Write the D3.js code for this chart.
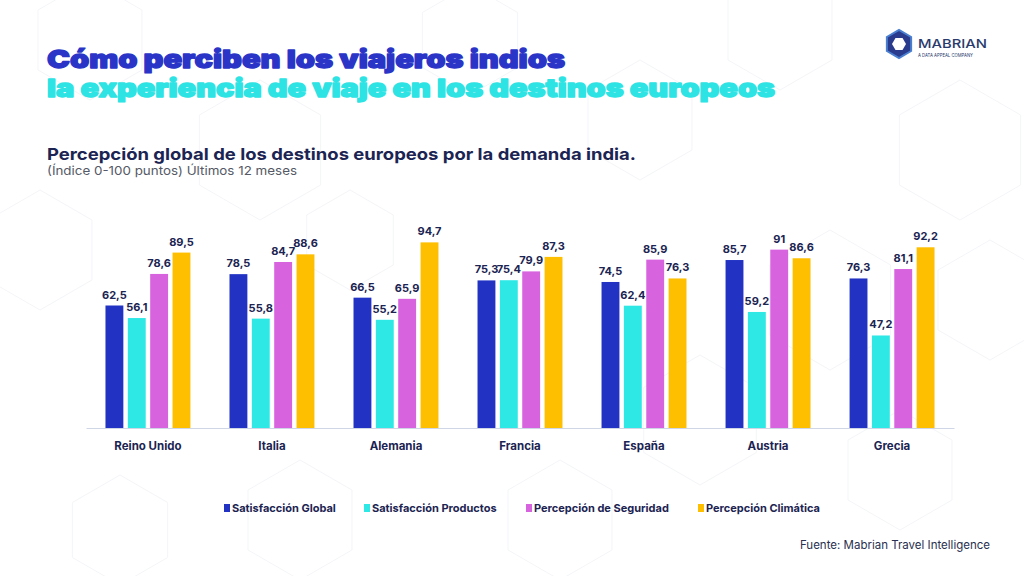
<!DOCTYPE html>
<html><head><meta charset="utf-8">
<script src="https://cdn.jsdelivr.net/npm/d3@7"></script>
<style>html,body{margin:0;padding:0;background:#fff;}svg{display:block;}</style>
</head><body>
<svg id="c" width="1024" height="576"></svg>
<script>
const categories = ["Reino Unido","Italia","Alemania","Francia","España","Austria","Grecia"];
const seriesNames = ["Satisfacción Global","Satisfacción Productos","Percepción de Seguridad","Percepción Climática"];
const satisfaccionGlobal = [62.5,78.5,66.5,75.3,74.5,85.7,76.3];
const satisfaccionProductos = [56.1,55.8,55.2,75.4,62.4,59.2,47.2];
const percepcionSeguridad = [78.6,84.7,65.9,79.9,85.9,91,81.1];
const percepcionClimatica = [89.5,88.6,94.7,87.3,76.3,86.6,92.2];
const colors = ["#2233c4","#2ee8e6","#d763df","#fdbf00"];

const series = [satisfaccionGlobal,satisfaccionProductos,percepcionSeguridad,percepcionClimatica];
const svg = d3.select("#c");
const navy = "#1b2452";

// faint hexagon background
const hexG = svg.append("g").attr("fill","none").attr("stroke","#f4f5f8").attr("stroke-width",1);
const hexCenters = [[90,40,60],[260,150,70],[470,40,55],[640,120,60],[780,30,60],[960,150,70],[830,300,70],[990,300,60],[700,420,65],[560,520,60],[300,520,60],[120,530,55],[40,250,60],[900,470,60],[350,240,50]];
hexCenters.forEach(([cx,cy,r])=>{
  const pts = d3.range(6).map(i=>{const a=Math.PI/3*i+Math.PI/6;return [cx+r*Math.cos(a),cy+r*Math.sin(a)];});
  hexG.append("polygon").attr("points",pts.map(p=>p.join(",")).join(" "));
});

// titles
svg.append("text").attr("x",47).attr("y",68).attr("font-family","Inter").attr("font-weight",900)
  .attr("font-size",25).attr("fill","#2a35c8").attr("stroke","#2a35c8").attr("stroke-width",1.3).attr("stroke-linejoin","round")
  .attr("textLength",518).attr("lengthAdjust","spacingAndGlyphs")
  .text("Cómo perciben los viajeros indios");
svg.append("text").attr("x",47).attr("y",97).attr("font-family","Inter").attr("font-weight",900)
  .attr("font-size",25).attr("fill","#2ee3e3").attr("stroke","#2ee3e3").attr("stroke-width",1.3).attr("stroke-linejoin","round")
  .attr("textLength",728).attr("lengthAdjust","spacingAndGlyphs")
  .text("la experiencia de viaje en los destinos europeos");

svg.append("text").attr("x",47).attr("y",160).attr("font-family","Inter").attr("font-weight",700)
  .attr("font-size",16.5).attr("fill",navy).attr("textLength",589).attr("lengthAdjust","spacingAndGlyphs")
  .text("Percepción global de los destinos europeos por la demanda india.");
svg.append("text").attr("x",47).attr("y",175).attr("font-family","Inter").attr("font-weight",400)
  .attr("font-size",12).attr("fill","#555a66").attr("textLength",250).attr("lengthAdjust","spacingAndGlyphs")
  .text("(Índice 0-100 puntos) Últimos 12 meses");

// logo
const lg = svg.append("g");
const hx=899, hy=44, hr=14;
const hexPts = d3.range(6).map(i=>{const a=Math.PI/3*i+Math.PI/6;return [hx+hr*Math.cos(a),hy+hr*Math.sin(a)];});
lg.append("polygon").attr("points",hexPts.map(p=>p.join(",")).join(" ")).attr("fill","#2a3a8c");
lg.append("polygon").attr("points",hexPts.map(p=>p.join(",")).join(" ")).attr("fill","none").attr("stroke","#4a7fd0").attr("stroke-width",2);
const inPts = d3.range(6).map(i=>{const a=Math.PI/3*i;return [hx+7*Math.cos(a),hy+7*Math.sin(a)];});
lg.append("polygon").attr("points",inPts.map(p=>p.join(",")).join(" ")).attr("fill","#fff");
lg.append("text").attr("x",918).attr("y",48).attr("font-family","Inter").attr("font-weight",500).attr("font-size",12)
  .attr("fill","#2a3a6c").attr("textLength",69).attr("lengthAdjust","spacingAndGlyphs").text("MABRIAN");
lg.append("text").attr("x",918).attr("y",57).attr("font-family","Inter").attr("font-size",5)
  .attr("fill","#2a3a6c").attr("textLength",55).attr("lengthAdjust","spacingAndGlyphs").text("A DATA APPEAL COMPANY");

// chart
const x0 = d3.scaleBand().domain(categories).range([86,954]).paddingInner(0.315).paddingOuter(0.157);
const x1 = d3.scaleBand().domain(d3.range(4)).range([0,x0.bandwidth()]).paddingInner(0.2);
const y = d3.scaleLinear().domain([0,100]).range([428,232]);

const g = svg.append("g");
categories.forEach((c,ci)=>{
  series.forEach((s,si)=>{
    const v = s[ci];
    const bx = x0(c)+x1(si);
    g.append("rect").attr("x",bx).attr("y",y(v)).attr("width",x1.bandwidth()).attr("height",y(0)-y(v)).attr("fill",colors[si]);
    g.append("text").attr("x",bx+x1.bandwidth()/2).attr("y",y(v)-7).attr("text-anchor","middle")
      .attr("font-family","Inter").attr("font-weight",700).attr("font-size",11).attr("fill",navy)
      .text(String(v).replace(".",","));
  });
});

const xAxis = svg.append("g").attr("transform","translate(0,428)").call(d3.axisBottom(x0).tickSize(0).tickPadding(14));
xAxis.select(".domain").attr("stroke","#cfd6e6").attr("stroke-width",1.2);
xAxis.selectAll("text").attr("font-family","Inter").attr("font-weight",700).attr("font-size",11.5).attr("fill",navy);

// legend
const legX = [224,364,526,698];
const leg = svg.append("g");
seriesNames.forEach((n,i)=>{
  leg.append("rect").attr("x",legX[i]).attr("y",504).attr("width",6).attr("height",8).attr("fill",colors[i]);
  leg.append("text").attr("x",legX[i]+8).attr("y",512).attr("font-family","Inter").attr("font-weight",700)
    .attr("font-size",11).attr("fill",navy).text(n);
});

// source
svg.append("text").attr("x",990).attr("y",549).attr("text-anchor","end").attr("font-family","Inter")
  .attr("font-size",11.5).attr("fill","#2a3050").text("Fuente: Mabrian Travel Intelligence");
</script>
</body></html>
